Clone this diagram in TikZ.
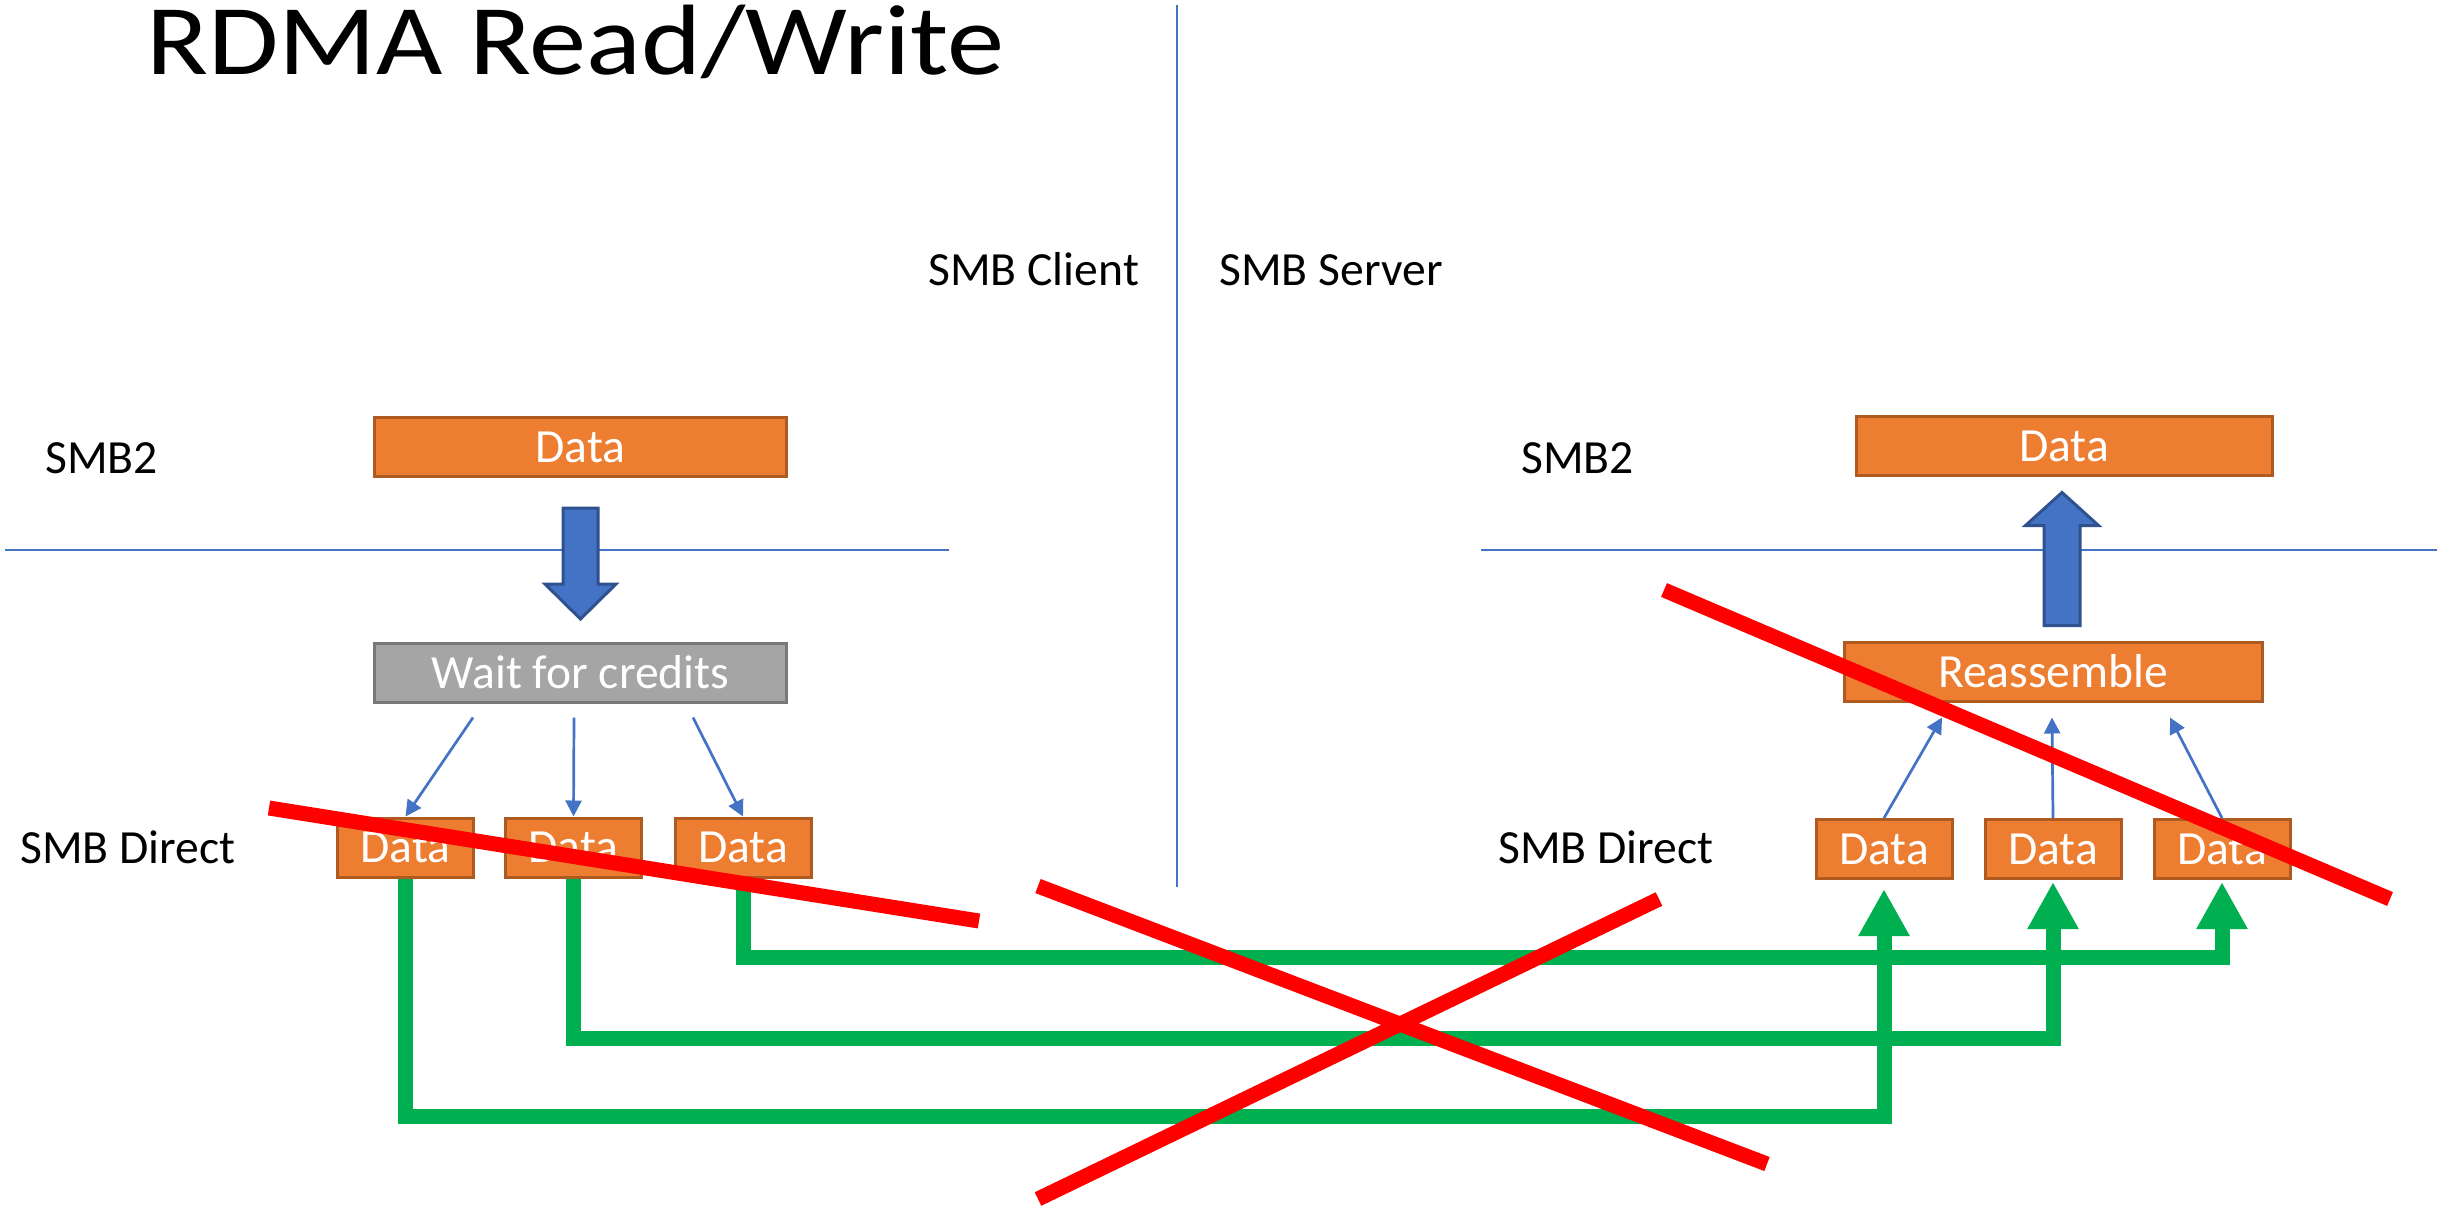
\documentclass[tikz,border=0pt]{standalone}
\usepackage{fontspec}
\setmainfont{Carlito}
\usetikzlibrary{arrows.meta}
\def\px{0.5pt}
\newcommand{\boxfont}{\fontsize{23.8}{28}\selectfont}
\newcommand{\titlefont}{\fontsize{50}{55}\selectfont}
\definecolor{orangefill}{HTML}{ED7D31}
\definecolor{orangeline}{HTML}{AE5A21}
\definecolor{grayfill}{HTML}{A5A5A5}
\definecolor{grayline}{HTML}{787878}
\definecolor{blueline}{HTML}{4472C4}
\definecolor{bluedark}{HTML}{2F528F}
\definecolor{wiregreen}{HTML}{00B050}

\begin{document}
\begin{tikzpicture}[x=\px,y=-\px]
	\tikzstyle{box}=[draw=orangeline,fill=orangefill,line width=1.5pt,text=white,font=\boxfont,inner sep=0pt,minimum height=29.5pt]
	\tikzstyle{wide box}=[box,minimum width=206pt]
	\tikzstyle{data box}=[box,minimum width=68pt]
	\tikzstyle{credit box}=[wide box,draw=grayline,fill=grayfill]
	\tikzstyle{layer text}=[font=\boxfont,anchor=base west,inner sep=0pt]
	\tikzstyle{thin arrow}=[draw=blueline,line width=1.35pt,-{Triangle[length=8pt,width=8pt]}]
	\tikzstyle{green wire}=[draw=wiregreen,line width=7.5pt,line join=miter,-{Triangle[length=23.5pt,width=24pt]}]
	\tikzstyle{block arrow}=[fill=blueline,draw=bluedark,line width=1.5pt,line join=miter]
	\tikzstyle{divider}=[draw=blueline,line width=0.8pt]
	\tikzstyle{strike}=[draw=red,line width=7.5pt]
	\useasboundingbox (0,0) rectangle (2440,1205);

	% Title and layer names
	\node[anchor=base west,font=\titlefont,inner sep=0pt] (title) at (146,74) {\scalebox{1.145}[1]{RDMA Read/Write}};
	\node[layer text] (client) at (928,285) {SMB Client};
	\node[layer text] (server) at (1219,285) {SMB Server};
	\node[layer text] (smb2L) at (45,473) {SMB2};
	\node[layer text] (smb2R) at (1521,473) {SMB2};
	\node[layer text] (directL) at (20,863) {SMB Direct};
	\node[layer text] (directR) at (1498,863) {SMB Direct};

	% Dividers
	\draw[divider] (1177,5) -- (1177,887);
	\draw[divider] (5,550) -- (949,550);
	\draw[divider] (1481,550) -- (2437,550);

	% Client side
	\node[wide box] (D1) at (580.5,447) {Data};
	\node[credit box] (W) at (580.5,672.5) {Wait for credits};
	\foreach \name / \x in {1/405.5,2/573.5,3/743}
	\node[data box] (L\name) at (\x,847.5) {Data};

	% Server side
	\node[wide box,minimum width=208pt] (D2) at (2064,446) {Data};
	\node[wide box,minimum width=209pt] (Re) at (2053,671.5) {Reassemble};
	\foreach \name / \x in {1/1884,2/2053,3/2222}
	\node[data box] (R\name) at (\x,849) {Data};

	% Block arrows
	\draw[block arrow] ([yshift=-15pt]D1.south) -- ++(17.5,0) -- ++(0,76) -- ++(18,0)
		-- ++(-35.5,35) -- ++(-35.5,-35) -- ++(18,0) -- ++(0,-76) -- cycle;
	\draw[block arrow] ([shift={(9,-15)}]Re.north) -- ++(18,0) -- ++(0,-100) -- ++(18.5,0)
		-- ++(-36.5,-33) -- ++(-36.5,33) -- ++(18.5,0) -- ++(0,100) -- cycle;

	% Split into credits
	\foreach \name / \dx in {1/-107.5,2/-6.5,3/112.5}
	\draw[thin arrow] ([shift={(\dx,14)}]W.south) -- (L\name.north);

	% Reassemble
	\foreach \name / \dx in {1/-111,2/-1,3/117}
	\draw[thin arrow] (R\name.north) -- ([shift={(\dx,15)}]Re.south);

	% RDMA transfers
	\foreach \name / \lev / \gap in {1/1116/4.5pt,2/1038/1pt,3/957/1pt} {
		\coordinate (g\name) at (0,\lev);
		\draw[green wire,shorten >=\gap] (L\name.south) -- (L\name.south |- g\name)
			-- (R\name.south |- g\name) -- (R\name.south);
	}

	% Struck out
	\draw[strike] (269,808) -- (979,921);
	\draw[strike] (1038,886) -- (1767,1164);
	\draw[strike] (1659,899) -- (1038,1199);
	\draw[strike] (1664,590) -- (2390,899);
\end{tikzpicture}
\end{document}
